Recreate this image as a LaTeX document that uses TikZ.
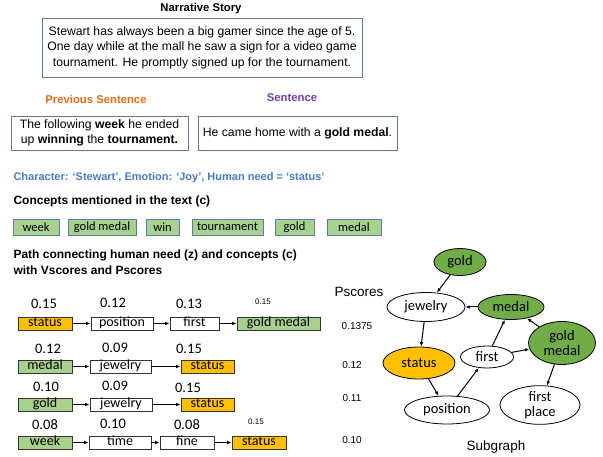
\documentclass[tikz,border=0pt]{standalone}
\usepackage{fontspec}
\setmainfont{Liberation Sans}
\newfontfamily\calibri{Carlito}
\usetikzlibrary{arrows.meta}
\definecolor{boxline}{HTML}{5B7DB1}
\definecolor{conceptg}{HTML}{A9D18E}
\definecolor{needo}{HTML}{FFC000}
\definecolor{graphg}{HTML}{70AD47}
\definecolor{prevo}{HTML}{E36C1A}
\definecolor{sentp}{HTML}{7B3BAE}
\definecolor{charb}{HTML}{4A7BC8}

\tikzset{
	textbox/.style={draw=boxline,line width=0.9pt,align=center,inner sep=0pt,font=\fontsize{12.2}{15.5}\selectfont},
	concept/.style={draw=boxline,line width=0.9pt,fill=conceptg,inner sep=0pt,minimum height=16pt,font=\calibri\fontsize{12.5}{13}\selectfont},
	pathbox/.style={draw=black!80,line width=0.7pt,inner sep=0pt,minimum height=13pt,text height=9pt,text depth=3pt,font=\calibri\fontsize{14}{14}\selectfont},
	score/.style={font=\calibri\fontsize{14.5}{15}\selectfont},
	smallscore/.style={font=\fontsize{8}{9}\selectfont},
	heading/.style={anchor=west,font=\bfseries\fontsize{12}{16}\selectfont,align=left},
	vertex/.style={ellipse,draw=black,line width=0.8pt,inner sep=0pt,font=\calibri\fontsize{14.5}{15}\selectfont,align=center},
	pscore/.style={font=\fontsize{10}{11}\selectfont},
	link/.style={line width=1pt,-{Latex[length=4.5pt,width=3.5pt]}},
}

\usetikzlibrary{shapes.geometric}

\begin{document}
\begin{tikzpicture}[x=1pt,y=-1pt]
		\useasboundingbox (0,0) rectangle (603,457);
		%
		% story and sentences
		\node[font=\bfseries\fontsize{11.3}{12}\selectfont] (title) at (201,9) {Narrative Story};
		\node[textbox,minimum width=320pt,minimum height=59pt] (story) at (202,47.5)
			{Stewart has always been a big gamer since the age of 5.\\One day while at the mall he saw a sign for a video game\\tournament. He promptly signed up for the tournament.};
		\node[font=\bfseries\fontsize{11.3}{12}\selectfont,text=prevo] (prevlab) at (96,99) {Previous Sentence};
		\node[font=\bfseries\fontsize{11.3}{12}\selectfont,text=sentp] (sentlab) at (292,98) {Sentence};
		\node[textbox,minimum width=177pt,minimum height=34pt] (prev) at (99.5,133)
			{The following \textbf{week} he ended\\up \textbf{winning} the \textbf{tournament.}};
		\node[textbox,minimum width=199pt,minimum height=34pt] (sent) at (297.5,133)
			{He came home with a \textbf{gold medal}.};
		%
		% concepts
		\node[heading,text=charb,font=\bfseries\fontsize{11}{13}\selectfont] (char) at (10,178) {Character: `Stewart', Emotion: `Joy', Human need = `status'};
		\node[heading] (conc) at (10,201) {Concepts mentioned in the text (c)};
		\node[concept,minimum width=46pt] (c1) at (36,227) {week};
		\node[concept,minimum width=68pt] (c2) at (102,227) {gold medal};
		\node[concept,minimum width=33pt] (c3) at (162.5,227) {win};
		\node[concept,minimum width=71pt] (c4) at (227.5,227) {tournament};
		\node[concept,minimum width=39pt] (c5) at (294.5,227) {gold};
		\node[concept,minimum width=54pt] (c6) at (354,227) {medal};
		\node[heading] (pathlab) at (10,262) {Path connecting human need (z) and concepts (c)\\with Vscores and Pscores};
		%
		% paths
		\node[pathbox,fill=needo,minimum width=54pt] (a1) at (45,323.5) {status};
		\node[pathbox,minimum width=62pt] (a2) at (122,323.5) {position};
		\node[pathbox,minimum width=49pt] (a3) at (194.5,323.5) {first};
		\node[pathbox,fill=conceptg,minimum width=83pt] (a4) at (278.5,323.5) {gold medal};
		\node[score] at (44,304) {0.15};
		\node[score] at (113,303) {0.12};
		\node[score] at (189,304) {0.13};
		\node[smallscore] at (263,302) {0.15};
		\draw[link] (a1) -- (a2);
		\draw[link] (a2) -- (a3);
		\draw[link] (a3) -- (a4);
		%
		\node[pathbox,fill=conceptg,minimum width=54pt] (b1) at (45,366.5) {medal};
		\node[pathbox,minimum width=61pt] (b2) at (120.5,366.5) {jewelry};
		\node[pathbox,fill=needo,minimum width=53pt] (b3) at (207.5,366.5) {status};
		\node[score] at (48,349) {0.12};
		\node[score] at (115,348) {0.09};
		\node[score] at (189,349) {0.15};
		\draw[link] (b1) -- (b2);
		\draw[link] (b2) -- (b3);
		%
		\node[pathbox,fill=conceptg,minimum width=54pt] (d1) at (45,404.5) {gold};
		\node[pathbox,minimum width=62pt] (d2) at (121,404.5) {jewelry};
		\node[pathbox,fill=needo,minimum width=53pt] (d3) at (207.5,404.5) {status};
		\node[score] at (46,387) {0.10};
		\node[score] at (115,386) {0.09};
		\node[score] at (188,388) {0.15};
		\draw[link] (d1) -- (d2);
		\draw[link] (d2) -- (d3);
		%
		\node[pathbox,fill=conceptg,minimum width=54pt] (e1) at (45,442.5) {week};
		\node[pathbox,minimum width=62pt] (e2) at (120,442.5) {time};
		\node[pathbox,minimum width=54pt] (e3) at (187,442.5) {fine};
		\node[pathbox,fill=needo,minimum width=54pt] (e4) at (259,442.5) {status};
		\node[score] at (45,425) {0.08};
		\node[score] at (113,424) {0.10};
		\node[score] at (187,425) {0.08};
		\node[smallscore] at (256,422) {0.15};
		\draw[link] (e1) -- (e2);
		\draw[link] (e2) -- (e3);
		\draw[link] (e3) -- (e4);
		%
		% subgraph
		\node[font=\fontsize{13.5}{14}\selectfont] (pscores) at (359,292) {Pscores};
		\node[pscore] at (357,326) {0.1375};
		\node[pscore] at (352,365) {0.12};
		\node[pscore] at (352,398) {0.11};
		\node[pscore] at (352,440) {0.10};
		\node[vertex,fill=graphg,minimum width=52pt,minimum height=27pt] (gold) at (460,262) {gold};
		\node[vertex,minimum width=78pt,minimum height=29pt] (jewelry) at (426,307) {jewelry};
		\node[vertex,fill=graphg,minimum width=66pt,minimum height=25pt] (medal) at (511,307) {medal};
		\node[vertex,fill=graphg,minimum width=67pt,minimum height=43pt] (goldmedal) at (562,343) {gold\\medal};
		\node[vertex,fill=needo,minimum width=72pt,minimum height=32pt] (status) at (419,363) {status};
		\node[vertex,minimum width=53pt,minimum height=22pt] (first) at (487,357) {first};
		\node[vertex,minimum width=85pt,minimum height=28pt] (position) at (447,410) {position};
		\node[vertex,minimum width=80pt,minimum height=36pt] (firstplace) at (540,405) {first\\place};
		\node[font=\fontsize{13.5}{14}\selectfont] (sub) at (496,447) {Subgraph};
		\draw[link] (gold) -- (jewelry);
		\draw[link] (jewelry) -- (status);
		\draw[link] (status) -- (position);
		\draw[link] (position) -- (first);
		\draw[link] (first) -- (medal);
		\draw[link] (first) -- (goldmedal);
		\draw[link] (goldmedal) -- (medal);
		\draw[link] (medal) -- (jewelry);
		\draw[link] (goldmedal) -- (firstplace);
	\end{tikzpicture}
\end{document}
